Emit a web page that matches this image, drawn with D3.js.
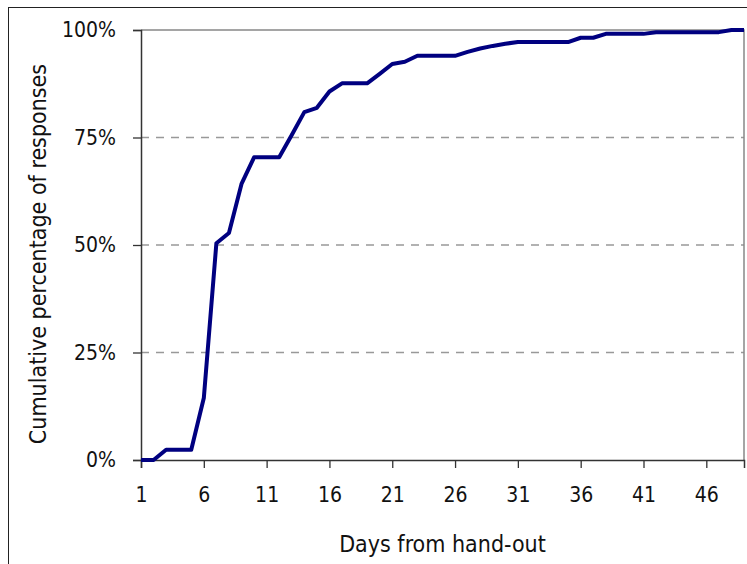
<!DOCTYPE html>
<html>
<head>
<meta charset="utf-8">
<script src="https://cdn.jsdelivr.net/npm/d3@7"></script>
<style>
  body { margin: 0; background: #fff; }
  text { font-family: "DejaVu Sans Condensed", "DejaVu Sans", sans-serif; fill: #111; }
</style>
</head>
<body>
<div id="chart"></div>
<script>
// Data: cumulative % of responses per day
const days = d3.range(1, 50);
const cumPct = [
    0, 0, 2.4, 2.4, 2.4, 14.4, 50.4, 52.8, 64.2, 70.4,
    70.4, 70.4, 75.6, 80.9, 81.9, 85.7, 87.6, 87.6, 87.6, 89.8,
    92.1, 92.6, 94.0, 94.0, 94.0, 94.0, 94.9, 95.7, 96.3, 96.8,
    97.2, 97.2, 97.2, 97.2, 97.2, 98.2, 98.2, 99.1, 99.1, 99.1,
    99.1, 99.5, 99.5, 99.5, 99.5, 99.5, 99.5, 100, 100
];
const xTicks = [1, 6, 11, 16, 21, 26, 31, 36, 41, 46];
const yTicks = [0, 25, 50, 75, 100];

const W = 747, H = 564;
const m = { left: 141, right: 3, top: 30, bottom: 104 };
const FONT = "'DejaVu Sans Condensed', 'DejaVu Sans', sans-serif";

const svg = d3.select("#chart").append("svg")
    .attr("width", W)
    .attr("height", H);

// outer chart frame (runs off the right/bottom edge)
svg.append("rect")
    .attr("x", 8.5).attr("y", 7.5)
    .attr("width", W + 20).attr("height", H + 20)
    .attr("fill", "none")
    .attr("stroke", "#222");

const x = d3.scaleLinear().domain([1, 49]).range([m.left, W - m.right]);
const y = d3.scaleLinear().domain([0, 100]).range([H - m.bottom, m.top]);

// dashed gridlines
svg.selectAll(".grid")
    .data(yTicks.filter(d => d > 0 && d < 100))
    .enter().append("line")
    .attr("x1", m.left).attr("x2", W - m.right)
    .attr("y1", d => y(d)).attr("y2", d => y(d))
    .attr("stroke", "#999")
    .attr("stroke-width", 1.3)
    .attr("stroke-dasharray", "8,7");

// plot area top & right border
svg.append("path")
    .attr("d", `M${m.left},${y(100)}H${x(49)}V${y(0)}`)
    .attr("fill", "none")
    .attr("stroke", "#888")
    .attr("stroke-width", 1.5);

// y axis
const yAxis = svg.append("g")
    .attr("transform", `translate(${m.left},0)`)
    .call(d3.axisLeft(y).tickValues(yTicks).tickSize(8).tickPadding(17).tickFormat(d => d + "%"));
yAxis.select(".domain").attr("stroke", "#333").attr("stroke-width", 1.5);
yAxis.selectAll(".tick line").attr("stroke", "#333").attr("stroke-width", 1.3);
yAxis.selectAll("text").attr("font-size", 21).attr("fill", "#111").style("font-family", FONT);

// x axis
const xAxis = svg.append("g")
    .attr("transform", `translate(0,${y(0)})`)
    .call(d3.axisBottom(x).tickValues(xTicks).tickSize(8).tickPadding(19).tickFormat(d3.format("d")));
xAxis.select(".domain").attr("stroke", "#333").attr("stroke-width", 1.5);
xAxis.selectAll(".tick line").attr("stroke", "#333").attr("stroke-width", 1.3);
xAxis.selectAll("text").attr("font-size", 21).attr("fill", "#111").style("font-family", FONT);

// line
const line = d3.line()
    .x((d, i) => x(days[i]))
    .y(d => y(d));

svg.append("path")
    .datum(cumPct)
    .attr("d", line)
    .attr("fill", "none")
    .attr("stroke", "#000080")
    .attr("stroke-width", 4)
    .attr("stroke-linejoin", "round");

// axis titles
svg.append("text")
    .attr("x", (m.left + W - m.right) / 2)
    .attr("y", 552)
    .attr("text-anchor", "middle")
    .attr("font-size", 23)
    .text("Days from hand-out");

svg.append("text")
    .attr("transform", "translate(46,254) rotate(-90)")
    .attr("text-anchor", "middle")
    .attr("font-size", 23)
    .text("Cumulative percentage of responses");
</script>
</body>
</html>
